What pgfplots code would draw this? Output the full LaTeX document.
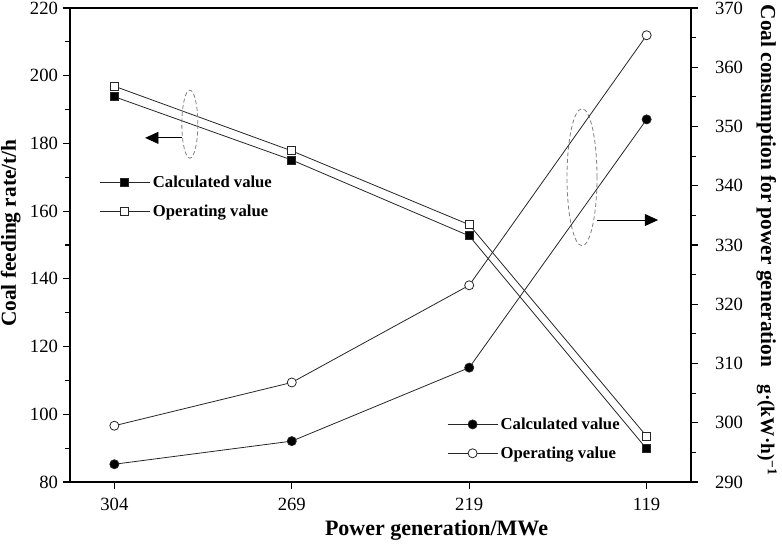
\documentclass[border=0pt]{standalone}
\usepackage{fontspec}
\setmainfont{Liberation Serif}
\usepackage{pgfplots}
\pgfplotsset{compat=1.18}
\usetikzlibrary{arrows.meta}
\tikzset{labfont/.style={font=\fontsize{16.5}{19}\selectfont\bfseries},
  ylabfont/.style={font=\fontsize{16}{19}\selectfont\bfseries, inner sep=0pt}}

\begin{document}
\begin{tikzpicture}
\pgfplotsset{
  every axis/.append style={
    scale only axis, width=465.75pt, height=355.5pt,
    xmin=-0.25, xmax=3.25,
    /pgf/number format/assume math mode=true,
    tick label style={font=\fontsize{14}{16}\selectfont},
    tick align=outside,
    major tick length=5.5pt, minor tick length=3.5pt,
    every tick/.style={black, line width=0.8pt},
    axis line style={line width=1pt},
    legend style={draw=none, fill=none, font=\fontsize{12.5}{15}\selectfont\bfseries,
      row sep=7.5pt, cells={anchor=west}, inner sep=0pt},
    legend image code/.code={\draw[mark repeat=2, mark phase=2, #1] plot coordinates {(0pt,0pt)(18.75pt,0pt)(37.5pt,0pt)};},
  },
  dataline/.style={black!85, line width=0.6pt},
}
\begin{axis}[
  ymin=80, ymax=220, ytick={80,100,...,220}, minor y tick num=1,
  xtick={0,1,2,3}, xticklabels={304,269,219,119},
  xtick pos=left, ytick pos=left,
  xticklabel style={yshift=-3pt},
  xlabel={Power generation/MWe},
  ylabel={Coal feeding rate/t/h},
  every axis x label/.style={at={([xshift=42pt]axis description cs:0.5,0)}, anchor=north, yshift=-25pt, labfont},
  every axis y label/.style={at={([xshift=-40.5pt]axis description cs:0,0.525)}, rotate=90, anchor=base, ylabfont},
  legend style={at={(axis description cs:0.047,0.652)}, anchor=north west},
]
\addplot[dataline, mark=square*, mark size=3pt, mark options={fill=black, solid}] coordinates {(0,193.8)(1,175.1)(2,152.7)(3,89.8)};
\addlegendentry{Calculated value}
\addplot[dataline, mark=square*, mark size=3pt, mark options={fill=white, solid}] coordinates {(0,196.9)(1,177.8)(2,156.0)(3,93.5)};
\addlegendentry{Operating value}
\draw[gray, dash pattern=on 3pt off 2pt, line width=0.6pt] (axis description cs:0.193,0.755) ellipse [x radius=6pt, y radius=25.5pt];
\draw[black, line width=0.6pt, -{Triangle[length=10pt,width=9pt]}] (axis description cs:0.180,0.726) -- (axis description cs:0.121,0.726);
\draw[gray, dash pattern=on 3pt off 2pt, line width=0.6pt] (axis description cs:0.8245,0.643) ellipse [x radius=11.25pt, y radius=51.4pt];
\draw[black, line width=0.6pt, -{Triangle[length=10pt,width=9pt]}] (axis description cs:0.8486,0.5527) -- (axis description cs:0.947,0.5527);
\end{axis}
\begin{axis}[
  ymin=290, ymax=370, ytick={290,300,...,370}, minor y tick num=1,
  axis y line*=right, axis x line=none,
  yticklabel style={xshift=9pt},
  ylabel={Coal consumption for power generation\hspace{0.8em}{\fontsize{14.5}{17}\selectfont g·(kW·h)\textsuperscript{−1}}},
  every axis y label/.style={at={([xshift=52.5pt]axis description cs:1,0.51)}, rotate=-90, anchor=base, ylabfont},
  legend style={at={(axis description cs:0.607,0.142)}, anchor=north west},
]
\addplot[dataline, mark=*, mark size=3.4pt, mark options={fill=black, solid}] coordinates {(0,293.0)(1,296.9)(2,309.3)(3,351.2)};
\addlegendentry{Calculated value}
\addplot[dataline, mark=*, mark size=3.4pt, mark options={fill=white, solid}] coordinates {(0,299.5)(1,306.8)(2,323.2)(3,365.4)};
\addlegendentry{Operating value}
\end{axis}
\pgfresetboundingbox
\useasboundingbox (-52.5pt,-46.5pt) rectangle (534pt,361.5pt);
\end{tikzpicture}
\end{document}
